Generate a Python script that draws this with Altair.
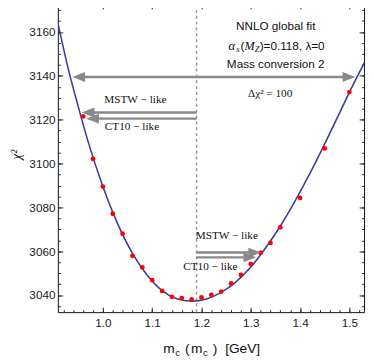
import altair as alt
import pandas as pd

# ---------------- data ----------------
mc_pts = [0.96, 0.98, 1.00, 1.02, 1.04, 1.06, 1.08, 1.10, 1.12, 1.14, 1.16, 1.18,
          1.20, 1.22, 1.24, 1.26, 1.28, 1.30, 1.32, 1.34, 1.36, 1.40, 1.45, 1.50]
chi2_pts = [3121.5, 3102.1, 3089.5, 3077.1, 3068.0, 3057.9, 3052.6, 3046.8, 3041.9,
            3039.2, 3038.6, 3038.0, 3038.9, 3040.1, 3041.6, 3045.3, 3049.2, 3054.2,
            3059.3, 3063.8, 3070.9, 3084.3, 3106.9, 3132.6]

mc_fit = [0.905, 0.93, 0.95, 0.97, 1.00, 1.03, 1.06, 1.09, 1.12, 1.15, 1.18, 1.21,
          1.24, 1.27, 1.30, 1.33, 1.36, 1.39, 1.42, 1.45, 1.48, 1.50, 1.535]
chi2_fit = [3168.0, 3143.0, 3126.0, 3110.0, 3089.5, 3072.5, 3059.0, 3049.0, 3042.0,
            3038.3, 3037.2, 3038.2, 3041.2, 3046.0, 3052.8, 3061.5, 3071.5, 3083.0,
            3095.5, 3109.0, 3123.0, 3132.5, 3148.0]

mc_central = [1.19]

# arrows: y level, start (tail) and tip
arrow_y = [3139.5, 3123.3, 3120.5, 3059.4, 3057.2]
arrow_tail = [0.938, 1.19, 1.19, 1.19, 1.19]
arrow_tip = [1.512, 0.957, 0.966, 1.321, 1.311]

x_major = [1.0, 1.1, 1.2, 1.3, 1.4, 1.5]
x_minor = [round(0.92 + 0.02 * i, 2) for i in range(31)]
y_major = [3040, 3060, 3080, 3100, 3120, 3140, 3160]
y_minor = [3035 + 5 * i for i in range(28)]

W, H = 313, 315
xs = alt.Scale(domain=[0.9087, 1.5298], nice=False, zero=False)
ys = alt.Scale(domain=[3032.2, 3172.8], nice=False, zero=False)

pts_df = pd.DataFrame({"x": mc_pts, "y": chi2_pts})
fit_df = pd.DataFrame({"x": mc_fit, "y": chi2_fit})

TICK = "#222222"


def carrier(xaxis, yaxis):
    return alt.Chart(pts_df).mark_point(opacity=0).encode(
        x=alt.X("x:Q", scale=xs, axis=xaxis),
        y=alt.Y("y:Q", scale=ys, axis=yaxis),
    )


def tick_axis(orient, offset, values, size):
    return alt.Axis(orient=orient, offset=offset, values=values, tickSize=size,
                    labels=False, domain=False, grid=False, title=None,
                    tickColor=TICK, tickWidth=1)


ax_x_lab = alt.Axis(orient="bottom", values=x_major, format=".1f", tickSize=0,
                    domain=False, grid=False, title=None, labelFont="Liberation Sans",
                    labelFontSize=12, labelColor="#222222", labelPadding=6)
ax_y_lab = alt.Axis(orient="left", values=y_major, format="d", tickSize=0,
                    domain=False, grid=False, title=None, labelFont="Liberation Sans",
                    labelFontSize=12, labelColor="#222222", labelPadding=3)

carriers = [
    carrier(ax_x_lab, ax_y_lab),
    carrier(tick_axis("top", -H, x_major, 5), tick_axis("right", -W, y_major, 5)),
    carrier(tick_axis("top", -H, x_minor, 2.5), tick_axis("right", -W, y_minor, 2.5)),
    carrier(tick_axis("bottom", -H, x_major, 5), tick_axis("left", -W, y_major, 5)),
    carrier(tick_axis("bottom", -H, x_minor, 2.5), tick_axis("left", -W, y_minor, 2.5)),
]


def XY(df_x="x", df_y="y"):
    return dict(x=alt.X(f"{df_x}:Q", scale=xs, axis=None),
                y=alt.Y(f"{df_y}:Q", scale=ys, axis=None))


central = alt.Chart(pd.DataFrame({"x": mc_central})).mark_rule(
    color="#999999", strokeWidth=1.5, strokeDash=[3, 3]
).encode(x=alt.X("x:Q", scale=xs, axis=None))

fit_line = alt.Chart(fit_df).mark_line(
    color="#3c3ca0", strokeWidth=1.6, interpolate="monotone", clip=True
).encode(**XY())

points = alt.Chart(pts_df).mark_circle(color="#ff0000", size=24, opacity=1).encode(**XY())

# arrow shafts (stop slightly inside the head)
HEAD = 0.018
shaft_end = [t - HEAD if t > s else t + HEAD for s, t in zip(arrow_tail, arrow_tip)]
shaft_start = list(arrow_tail)
shaft_start[0] = arrow_tail[0] + HEAD
shaft_df = pd.DataFrame({"x": shaft_start, "x2": shaft_end, "y": arrow_y})
shafts = alt.Chart(shaft_df).mark_rule(color="#888888", strokeWidth=2.5).encode(
    x=alt.X("x:Q", scale=xs, axis=None), x2="x2:Q", y=alt.Y("y:Q", scale=ys, axis=None)
)

left_heads_df = pd.DataFrame({
    "x": [arrow_tail[0], arrow_tip[1], arrow_tip[2]],
    "y": [arrow_y[0], arrow_y[1], arrow_y[2]],
})
right_heads_df = pd.DataFrame({
    "x": [arrow_tip[0], arrow_tip[3], arrow_tip[4]],
    "y": [arrow_y[0], arrow_y[3], arrow_y[4]],
})
left_heads = alt.Chart(left_heads_df).mark_point(
    shape="M0,0L2,-0.77L2,0.77Z", size=169, filled=True, color="#888888",
    opacity=1, strokeWidth=0
).encode(**XY())
right_heads = alt.Chart(right_heads_df).mark_point(
    shape="M0,0L-2,-0.77L-2,0.77Z", size=169, filled=True, color="#888888",
    opacity=1, strokeWidth=0
).encode(**XY())

# ---------------- texts ----------------
SERIF = "Liberation Serif"
SANS = "Liberation Sans"


def txt(df, **kw):
    return alt.Chart(df).mark_text(**kw).encode(**XY(), text="t:N")


sans_df = pd.DataFrame({"x": [1.3506, 1.3506], "y": [3162.7, 3145.6],
                        "t": ["NNLO global fit", "Mass conversion 2"]})
sans_txt = txt(sans_df, font=SANS, fontSize=12, color="#111111")

serif_df = pd.DataFrame({
    "x": [1.3393, 1.066, 1.059, 1.2514, 1.218],
    "y": [3131.9, 3128.8, 3116.7, 3067.1, 3052.7],
    "t": ["Δχ² = 100", "MSTW − like", "CT10 − like", "MSTW − like", "CT10 − like"],
})
serif_txt = txt(serif_df, font=SERIF, fontSize=11.5, color="#111111")

# alpha_s(M_Z)=0.118, lambda=0  built from fragments
ax0 = 1.2546
ay0 = 3153.75
frag_df = pd.DataFrame({"x": [ax0], "y": [ay0]})
frags = [
    ("α", SERIF, 13, "italic", 0, 0),
    ("s", SERIF, 9, "italic", 8, 3),
    ("(", SANS, 12, "normal", 12.5, 0),
    ("M", SERIF, 12.5, "italic", 16.5, 0),
    ("Z", SERIF, 8.5, "italic", 27, 3),
    (")=0.118, λ=0", SANS, 12, "normal", 32, 0),
]
frag_layers = []
for t, f, s, st, dx, dy in frags:
    d = frag_df.assign(t=t)
    frag_layers.append(txt(d, font=f, fontSize=s, fontStyle=st, dx=dx, dy=dy,
                           align="left", baseline="middle", color="#111111"))

# x-axis title m_c ( m_c ) [GeV]
title_frags = [
    ("m", 14, 0, 107.7),
    ("c", 10, 4, 120.0),
    ("(", 14, 0, 130.0),
    ("m", 14, 0, 136.0),
    ("c", 10, 4, 148.3),
    (")", 14, 0, 158.3),
    ("[GeV]", 14, 0, 171.0),
]
title_layers = []
for t, s, dy, px in title_frags:
    title_layers.append(
        alt.Chart(pd.DataFrame({"t": [t]})).mark_text(
            font=SANS, fontSize=s, align="left", baseline="middle", dy=dy, color="#111111"
        ).encode(x=alt.value(px), y=alt.value(353), text="t:N")
    )

ytitle = alt.Chart(pd.DataFrame({"t": ["χ²"]})).mark_text(
    font=SERIF, fontSize=14, fontStyle="italic", angle=270, align="center",
    baseline="middle", color="#111111"
).encode(x=alt.value(-42), y=alt.value(154), text="t:N")

chart = alt.layer(
    *carriers, central, fit_line, points, shafts, left_heads, right_heads,
    sans_txt, serif_txt, *frag_layers, *title_layers, ytitle
).properties(
    width=W, height=H,
    autosize=alt.AutoSizeParams(type="none"),
    padding={"left": 51, "top": -8, "right": 2, "bottom": 45},
).resolve_axis(
    x="independent", y="independent"
).configure_view(stroke="#111111", strokeWidth=1)

chart.save("out.html", embed_options={"renderer": "svg", "actions": False})
